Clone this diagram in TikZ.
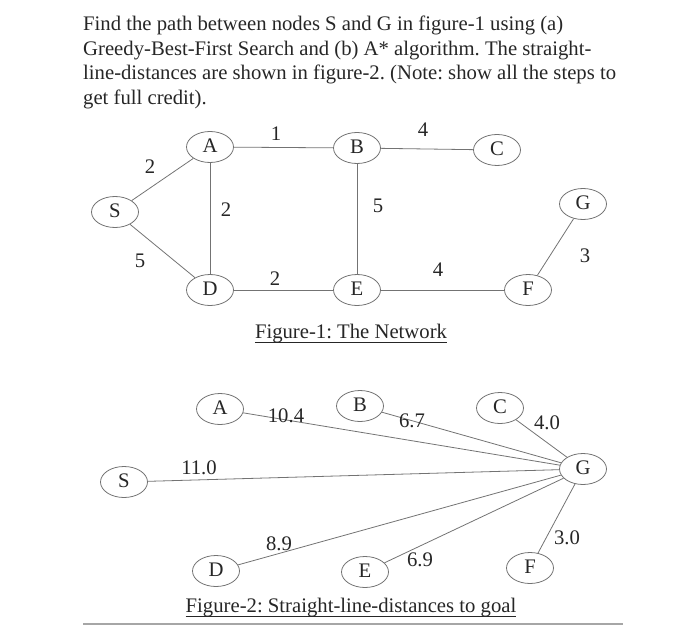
\documentclass[tikz,border=0pt]{standalone}
\usepackage{fontspec}
\setmainfont{Liberation Serif}
\usetikzlibrary{shapes.geometric,positioning}
\frenchspacing

\begin{document}
\begin{tikzpicture}[x=1pt,y=-1pt,
    every node/.style={font={\fontsize{20.7}{24.5}\selectfont},text=black!85},
    city/.style={ellipse,draw=black!55,line width=0.8pt,inner sep=0pt,
        minimum width=47pt,minimum height=31pt,text height=1.05em,text depth=0pt},
    road/.style={draw=black!55,line width=0.8pt},
    cost/.style={inner sep=0pt}]
    \useasboundingbox (0,0) rectangle (700,628);

    % Question text
    \node[anchor=north west,align=left,inner sep=0pt] (task) at (83,16)
        {Find the path between nodes S and G in figure-1 using (a)\\
         Greedy-Best-First Search and (b) A* algorithm. The straight-\\
         line-distances are shown in figure-2. (Note: show all the steps to\\
         get full credit).};

    % Figure 1: the network
    \node[city] (nS) at (115,212) {S};
    \node[city] (nA) at (210,147) {A};
    \node[city] (nB) at (357,148) {B};
    \node[city] (nC) at (497,150) {C};
    \node[city] (nG) at (583,204) {G};
    \node[city] (nD) at (210,290) {D};
    \node[city] (nE) at (357,290) {E};
    \node[city] (nF) at (528,290) {F};
    \foreach \a/\b in {S/A,S/D,A/B,A/D,B/C,B/E,D/E,E/F,F/G} {
        \draw[road] (n\a) -- (n\b);
    }
    \node[cost] (wSA) at (150,167) {2};
    \node[cost] (wSD) at (140,261) {5};
    \node[cost] (wAB) at (276,134) {1};
    \node[cost] (wAD) at (226,210) {2};
    \node[cost] (wBC) at (423,130) {4};
    \node[cost] (wBE) at (378,206) {5};
    \node[cost] (wDE) at (275,279) {2};
    \node[cost] (wEF) at (438,270) {4};
    \node[cost] (wFG) at (585,256) {3};
    \node[anchor=base,inner sep=0pt] (cap1) at (351,338) {Figure-1: The Network};
    \draw[black!85,line width=0.8pt] ([yshift=-4pt]cap1.base west) -- ([yshift=-4pt]cap1.base east);

    % Figure 2: straight-line distances
    \node[city] (hS) at (124,482) {S};
    \node[city] (hA) at (220,409) {A};
    \node[city] (hB) at (360,406) {B};
    \node[city] (hC) at (500,408) {C};
    \node[city] (hG) at (583,469) {G};
    \node[city] (hD) at (216,571) {D};
    \node[city] (hE) at (365,572) {E};
    \node[city] (hF) at (530,568) {F};
    \foreach \n in {A,B,C,S,D,E,F} {
        \draw[road] (h\n) -- (hG);
    }
    \node[cost] (dA) at (286,416) {10.4};
    \node[cost] (dB) at (412,421) {6.7};
    \node[cost] (dC) at (547,423) {4.0};
    \node[cost] (dS) at (199,468) {11.0};
    \node[cost] (dD) at (279,544) {8.9};
    \node[cost] (dE) at (420,560) {6.9};
    \node[cost] (dF) at (567,538) {3.0};
    \node[anchor=base,inner sep=0pt] (cap2) at (351,612) {Figure-2: Straight-line-distances to goal};
    \draw[black!85,line width=0.8pt] ([yshift=-4pt]cap2.base west) -- ([yshift=-4pt]cap2.base east);

    \draw[black!35,line width=1.5pt] (83,624) -- (623,624);
\end{tikzpicture}
\end{document}
